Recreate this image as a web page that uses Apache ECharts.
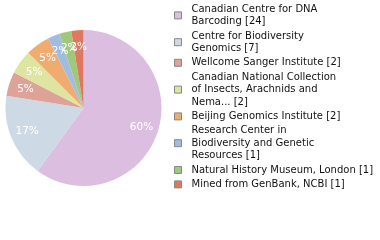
<!DOCTYPE html>
<html>
<head>
<meta charset="utf-8">
<script src="https://cdn.jsdelivr.net/npm/echarts@6/dist/echarts.min.js"></script>
<style>
  html, body { margin: 0; padding: 0; background: #fff; }
  #chart { width: 380px; height: 240px; }
</style>
</head>
<body>
<div id="chart"></div>
<script>
// institutions, as wrapped in the legend
const categories = [
  'Canadian Centre for DNA\nBarcoding [24]',
  'Centre for Biodiversity\nGenomics [7]',
  'Wellcome Sanger Institute [2]',
  'Canadian National Collection\nof Insects, Arachnids and\nNema... [2]',
  'Beijing Genomics Institute [2]',
  'Research Center in\nBiodiversity and Genetic\nResources [1]',
  'Natural History Museum, London [1]',
  'Mined from GenBank, NCBI [1]'
]
const values = [24, 7, 2, 2, 2, 1, 1, 1]
const colors = ['#dcbee1', '#cdd9e5', '#dea398', '#dde5a0', '#f0ab6f', '#a0bde1', '#a0c87d', '#de785f']

const total = values.reduce((a, b) => a + b, 0)
const pieData = categories.map((name, i) => ({ name: name, value: values[i] }))

const chart = echarts.init(document.getElementById('chart'))
chart.setOption({
  animation: false,
  color: colors,
  legend: {
    orient: 'vertical',
    left: 174,
    top: 3,
    padding: 0,
    itemWidth: 7,
    itemHeight: 7,
    itemGap: 2,
    icon: 'rect',
    itemStyle: {
      borderColor: '#888',
      borderWidth: 1
    },
    textStyle: {
      fontFamily: 'DejaVu Sans',
      fontSize: 10,
      lineHeight: 12.4,
      color: '#111',
      padding: [0, 0, 0, 5]
    },
    data: categories
  },
  series: [
    {
      type: 'pie',
      center: [83.5, 108],
      radius: 78,
      startAngle: 90,
      clockwise: true,
      silent: true,
      label: { show: false },
      labelLine: { show: false },
      data: pieData
    },
    {
      // transparent ring, only carries the percentage labels
      type: 'pie',
      center: [83.5, 108],
      radius: [38, 78],
      startAngle: 90,
      clockwise: true,
      silent: true,
      avoidLabelOverlap: false,
      itemStyle: { color: 'rgba(0,0,0,0)' },
      label: {
        show: true,
        position: 'inside',
        color: '#fff',
        fontFamily: 'DejaVu Sans',
        fontSize: 10.5,
        formatter: function(p) {
          return Math.floor(p.value / total * 100) + '%'
        }
      },
      labelLayout: { hideOverlap: false },
      labelLine: { show: false },
      data: pieData
    }
  ]
})
</script>
</body>
</html>
